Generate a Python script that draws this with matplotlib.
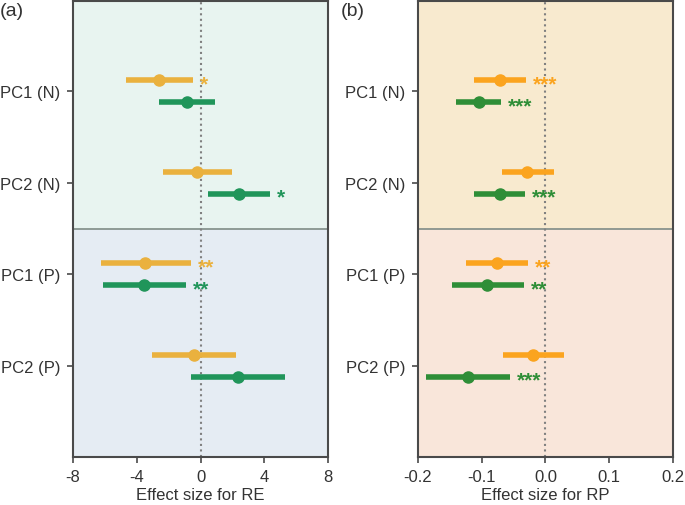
import matplotlib
matplotlib.use("Agg")
import matplotlib.pyplot as plt

plt.rcParams['font.family'] = ['Liberation Sans', 'DejaVu Sans']

# -----------------------------
# DATA
# -----------------------------
labels = ["PC1 (N)", "PC2 (N)", "PC1 (P)", "PC2 (P)"]

# panel (a): effect size for RE
re_n_mean = [-2.6, -0.22, -3.46, -0.43]
re_n_lo = [-4.67, -2.35, -6.24, -3.06]
re_n_hi = [-0.45, 1.96, -0.62, 2.21]
re_n_sig = ["*", "", "**", ""]

re_p_mean = [-0.85, 2.39, -3.54, 2.33]
re_p_lo = [-2.58, 0.45, -6.14, -0.62]
re_p_hi = [0.89, 4.36, -0.93, 5.3]
re_p_sig = ["", "*", "**", ""]

# panel (b): effect size for RP
rp_n_mean = [-0.071, -0.029, -0.076, -0.019]
rp_n_lo = [-0.112, -0.069, -0.125, -0.066]
rp_n_hi = [-0.031, 0.013, -0.027, 0.029]
rp_n_sig = ["***", "", "**", ""]

rp_p_mean = [-0.105, -0.072, -0.091, -0.121]
rp_p_lo = [-0.140, -0.112, -0.147, -0.188]
rp_p_hi = [-0.070, -0.032, -0.033, -0.055]
rp_p_sig = ["***", "***", "**", "***"]

re_ticks = [-8, -4, 0, 4, 8]
rp_ticks = [-0.2, -0.1, 0.0, 0.1, 0.2]

# -----------------------------
# STYLE
# -----------------------------
SPINE = '#4a4a4a'
TXT = '#333333'
off = 0.12  # vertical offset of the two rows within a group

fig = plt.figure(figsize=(6.85, 5.06), dpi=100)
ax_a = fig.add_axes([0.1066, 0.0949, 0.3723, 0.9012])
ax_b = fig.add_axes([0.6102, 0.0949, 0.3723, 0.9012])


def draw_row(ax, ypos, mean, lo, hi, sig, color):
    for i in range(len(mean)):
        y = ypos[i]
        ax.plot([lo[i], hi[i]], [y, y], color=color, lw=4, solid_capstyle='butt', zorder=3)
        ax.plot(mean[i], y, 'o', color=color, ms=8, zorder=4)
        if sig[i]:
            ax.annotate(sig[i], xy=(hi[i], y), xytext=(5, -2.5), textcoords='offset points',
                        ha='left', va='center', fontsize=15, fontweight='bold',
                        color=color, zorder=5)


def setup(ax, top_bg, bot_bg, xlim, ticks, ticklabels, xlabel):
    ax.set_ylim(4.0, -0.99)
    ax.set_xlim(*xlim)
    ax.axhspan(-0.99, 1.5, color=top_bg, zorder=0, lw=0)
    ax.axhspan(1.5, 4.0, color=bot_bg, zorder=0, lw=0)
    ax.axhline(1.5, color='#7f8c86', lw=1.2, zorder=1)
    ax.axvline(0, color='#808080', lw=1.5, ls=':', zorder=2)
    ax.set_yticks(range(len(labels)))
    ax.set_yticklabels(labels)
    ax.set_xticks(ticks)
    ax.set_xticklabels(ticklabels)
    ax.set_xlabel(xlabel, fontsize=12, color=TXT, labelpad=2)
    ax.tick_params(labelsize=12, colors=SPINE, labelcolor=TXT, length=4, width=1.2,
                   direction='out', pad=5)
    for s in ax.spines.values():
        s.set_color(SPINE)
        s.set_linewidth(1.5)


ypos = list(range(len(labels)))
y_top = [y - off for y in ypos]
y_bot = [y + off for y in ypos]

setup(ax_a, '#e8f4f0', '#e5ecf3', (-8, 8), re_ticks, [str(t) for t in re_ticks], "Effect size for RE")
draw_row(ax_a, y_top, re_n_mean, re_n_lo, re_n_hi, re_n_sig, '#eab13e')
draw_row(ax_a, y_bot, re_p_mean, re_p_lo, re_p_hi, re_p_sig, '#20955a')

setup(ax_b, '#f8eacf', '#f9e6da', (-0.2, 0.2), rp_ticks, [f"{t:.1f}" for t in rp_ticks], "Effect size for RP")
draw_row(ax_b, y_top, rp_n_mean, rp_n_lo, rp_n_hi, rp_n_sig, '#fba41f')
draw_row(ax_b, y_bot, rp_p_mean, rp_p_lo, rp_p_hi, rp_p_sig, '#2f8e37')

fig.text(0.0, 0.995, "(a)", fontsize=14, color=TXT, ha='left', va='top')
fig.text(0.497, 0.995, "(b)", fontsize=14, color=TXT, ha='left', va='top')

fig.savefig("out.png", dpi=100)
